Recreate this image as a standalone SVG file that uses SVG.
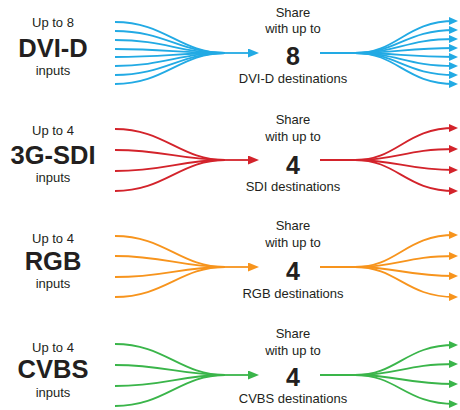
<svg xmlns="http://www.w3.org/2000/svg" width="460" height="410" viewBox="0 0 460 410">
<style>
.t{font-family:"Liberation Sans",Arial,sans-serif;fill:#231f20;text-anchor:middle}
.s{font-size:13px}
.b{font-size:25.5px;font-weight:bold}
.n{font-size:25px;font-weight:bold}
.w{fill:none;stroke-width:1.8;stroke-linecap:butt}
.blue{stroke:#22aae4}.red{stroke:#d3232b}.orange{stroke:#f7941d}.green{stroke:#3ab54a}
</style>
<defs>
<marker id="ab" markerUnits="userSpaceOnUse" markerWidth="11" markerHeight="9" refX="8" refY="4.5" orient="auto"><path d="M0,0 L11,4.5 L0,9 z" fill="#22aae4"/></marker>
<marker id="ar" markerUnits="userSpaceOnUse" markerWidth="11" markerHeight="9" refX="8" refY="4.5" orient="auto"><path d="M0,0 L11,4.5 L0,9 z" fill="#d3232b"/></marker>
<marker id="ao" markerUnits="userSpaceOnUse" markerWidth="11" markerHeight="9" refX="8" refY="4.5" orient="auto"><path d="M0,0 L11,4.5 L0,9 z" fill="#f7941d"/></marker>
<marker id="ag" markerUnits="userSpaceOnUse" markerWidth="11" markerHeight="9" refX="8" refY="4.5" orient="auto"><path d="M0,0 L11,4.5 L0,9 z" fill="#3ab54a"/></marker>
<marker id="sb" markerUnits="userSpaceOnUse" markerWidth="9" markerHeight="8" refX="6" refY="4" orient="auto"><path d="M0,0 L9,4 L0,8 z" fill="#22aae4"/></marker>
<marker id="sr" markerUnits="userSpaceOnUse" markerWidth="9" markerHeight="8" refX="6" refY="4" orient="auto"><path d="M0,0 L9,4 L0,8 z" fill="#d3232b"/></marker>
<marker id="so" markerUnits="userSpaceOnUse" markerWidth="9" markerHeight="8" refX="6" refY="4" orient="auto"><path d="M0,0 L9,4 L0,8 z" fill="#f7941d"/></marker>
<marker id="sg" markerUnits="userSpaceOnUse" markerWidth="9" markerHeight="8" refX="6" refY="4" orient="auto"><path d="M0,0 L9,4 L0,8 z" fill="#3ab54a"/></marker>
</defs>

<g id="connectors">
 <g class="w blue">
  <path d="M115,22 C165,22 180,53 225,53"/>
  <path d="M115,31 C165,31 180,53 225,53"/>
  <path d="M115,40 C165,40 180,53 225,53"/>
  <path d="M115,49 C165,49 180,53 225,53"/>
  <path d="M115,57 C165,57 180,53 225,53"/>
  <path d="M115,66 C165,66 180,53 225,53"/>
  <path d="M115,75 C165,75 180,53 225,53"/>
  <path d="M115,84 C165,84 180,53 225,53"/>
  <path d="M224,53 L256,53" marker-end="url(#ab)"/>
  <path d="M320,53 L355,53 C398,53 405,21 455,21" marker-end="url(#sb)"/>
  <path d="M320,53 L355,53 C398,53 405,30 455,30" marker-end="url(#sb)"/>
  <path d="M320,53 L355,53 C398,53 405,39 455,39" marker-end="url(#sb)"/>
  <path d="M320,53 L355,53 C398,53 405,48 455,48" marker-end="url(#sb)"/>
  <path d="M320,53 L355,53 C398,53 405,57 455,57" marker-end="url(#sb)"/>
  <path d="M320,53 L355,53 C398,53 405,66 455,66" marker-end="url(#sb)"/>
  <path d="M320,53 L355,53 C398,53 405,75 455,75" marker-end="url(#sb)"/>
  <path d="M320,53 L355,53 C398,53 405,84 455,84" marker-end="url(#sb)"/>
 </g>
 <g class="w red">
  <path d="M115,129 C165,129 180,160 225,160"/>
  <path d="M115,150 C165,150 180,160 225,160"/>
  <path d="M115,171 C165,171 180,160 225,160"/>
  <path d="M115,191 C165,191 180,160 225,160"/>
  <path d="M224,160 L256,160" marker-end="url(#ar)"/>
  <path d="M320,160 L355,160 C398,160 405,128 455,128" marker-end="url(#sr)"/>
  <path d="M320,160 L355,160 C398,160 405,149 455,149" marker-end="url(#sr)"/>
  <path d="M320,160 L355,160 C398,160 405,170 455,170" marker-end="url(#sr)"/>
  <path d="M320,160 L355,160 C398,160 405,191 455,191" marker-end="url(#sr)"/>
 </g>
 <g class="w orange">
  <path d="M115,236 C165,236 180,267 225,267"/>
  <path d="M115,256 C165,256 180,267 225,267"/>
  <path d="M115,277 C165,277 180,267 225,267"/>
  <path d="M115,297 C165,297 180,267 225,267"/>
  <path d="M224,267 L256,267" marker-end="url(#ao)"/>
  <path d="M320,267 L355,267 C398,267 405,235 455,235" marker-end="url(#so)"/>
  <path d="M320,267 L355,267 C398,267 405,256 455,256" marker-end="url(#so)"/>
  <path d="M320,267 L355,267 C398,267 405,276 455,276" marker-end="url(#so)"/>
  <path d="M320,267 L355,267 C398,267 405,297 455,297" marker-end="url(#so)"/>
 </g>
 <g class="w green">
  <path d="M115,344 C165,344 180,375 225,375"/>
  <path d="M115,365 C165,365 180,375 225,375"/>
  <path d="M115,386 C165,386 180,375 225,375"/>
  <path d="M115,406 C165,406 180,375 225,375"/>
  <path d="M224,375 L256,375" marker-end="url(#ag)"/>
  <path d="M320,375 L355,375 C398,375 405,345 455,345" marker-end="url(#sg)"/>
  <path d="M320,375 L355,375 C398,375 405,364 455,364" marker-end="url(#sg)"/>
  <path d="M320,375 L355,375 C398,375 405,384 455,384" marker-end="url(#sg)"/>
  <path d="M320,375 L355,375 C398,375 405,404 455,404" marker-end="url(#sg)"/>
 </g>
</g>

<g id="dvi-inputs">
 <text class="t s" x="53" y="27">Up to 8</text>
 <text class="t b" x="53" y="57">DVI-D</text>
 <text class="t s" x="53" y="75">inputs</text>
</g>
<g id="dvi-share">
 <text class="t s" x="293" y="17">Share</text>
 <text class="t s" x="293" y="33">with up to</text>
 <text class="t n" x="293" y="65">8</text>
 <text class="t s" x="293" y="83">DVI-D destinations</text>
</g>

<g id="sdi-inputs">
 <text class="t s" x="53" y="135">Up to 4</text>
 <text class="t b" x="53" y="164">3G-SDI</text>
 <text class="t s" x="53" y="182">inputs</text>
</g>
<g id="sdi-share">
 <text class="t s" x="293" y="124">Share</text>
 <text class="t s" x="293" y="141">with up to</text>
 <text class="t n" x="293" y="174">4</text>
 <text class="t s" x="293" y="191">SDI destinations</text>
</g>

<g id="rgb-inputs">
 <text class="t s" x="53" y="243">Up to 4</text>
 <text class="t b" x="53" y="270">RGB</text>
 <text class="t s" x="53" y="288">inputs</text>
</g>
<g id="rgb-share">
 <text class="t s" x="293" y="230">Share</text>
 <text class="t s" x="293" y="247">with up to</text>
 <text class="t n" x="293" y="280">4</text>
 <text class="t s" x="293" y="298">RGB destinations</text>
</g>

<g id="cvbs-inputs">
 <text class="t s" x="53" y="352">Up to 4</text>
 <text class="t b" x="53" y="378">CVBS</text>
 <text class="t s" x="53" y="397">inputs</text>
</g>
<g id="cvbs-share">
 <text class="t s" x="293" y="338">Share</text>
 <text class="t s" x="293" y="355">with up to</text>
 <text class="t n" x="293" y="386">4</text>
 <text class="t s" x="293" y="403">CVBS destinations</text>
</g>
</svg>
